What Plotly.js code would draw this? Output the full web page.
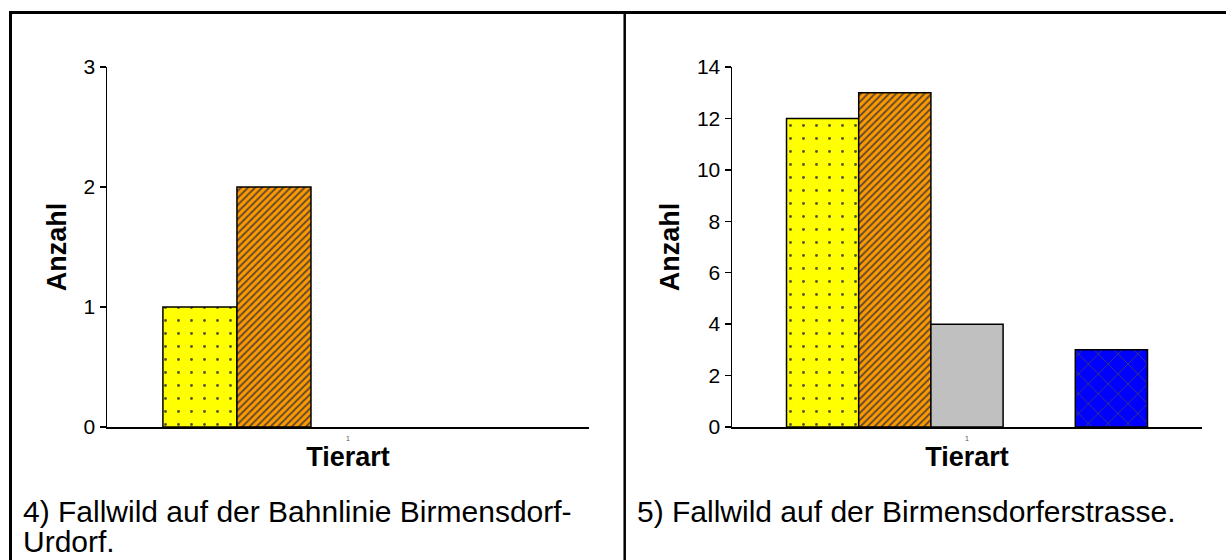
<!DOCTYPE html>
<html>
<head>
<meta charset="utf-8">
<script src="https://cdn.plot.ly/plotly-3.0.1.min.js"></script>
<style>
  html, body { margin: 0; padding: 0; background: #ffffff; }
  #chart { width: 1226px; height: 560px; }
</style>
</head>
<body>
<div id="chart"></div>
<script>
// ---- data ----
const categories = ['1'];
const seriesNames = ['Serie 1', 'Serie 2', 'Serie 3', 'Serie 4', 'Serie 5'];
// chart 4: Bahnlinie Birmensdorf-Urdorf
const bahnlinieValues = [1, 2, 0, 0, 0];
// chart 5: Birmensdorferstrasse
const strasseValues = [12, 13, 4, 0, 3];
const yTicks4 = [0, 1, 2, 3];
const yTicks5 = [0, 2, 4, 6, 8, 10, 12, 14];
const caption4a = '4) Fallwild auf der Bahnlinie Birmensdorf-';
const caption4b = 'Urdorf.';
const caption5 = '5) Fallwild auf der Birmensdorferstrasse.';
const xTitle = 'Tierart';
const yTitle = 'Anzahl';

// ---- styles ----
const FONT = 'Liberation Sans, Arial, Helvetica, sans-serif';
const styles = [
  {color: '#FFFF00', pattern: {shape: '.', fgcolor: '#55553a', bgcolor: '#FFFF00', size: 13, solidity: 0.04}},
  {color: '#FF9900', pattern: {shape: '/', fgcolor: '#5e4a30', bgcolor: '#FF9900', size: 5, solidity: 0.38}},
  {color: '#C0C0C0', pattern: {shape: ''}},
  {color: '#00FFFF', pattern: {shape: ''}},
  {color: '#0000FF', pattern: {shape: 'x', fgcolor: '#3a3a70', bgcolor: '#0000FF', size: 14, solidity: 0.12}}
];

const W = 1226, H = 560;
const px = v => v / W;
const py = v => 1 - v / H;

const traces = [];
function addChart(values, xa, ya) {
  values.forEach((v, i) => {
    traces.push({
      type: 'bar',
      x: categories,
      y: [v],
      name: seriesNames[i],
      xaxis: xa,
      yaxis: ya,
      showlegend: false,
      hoverinfo: 'y',
      marker: {
        color: styles[i].color,
        pattern: Object.assign({fillmode: 'replace'}, styles[i].pattern),
        line: {color: '#000000', width: v === 0 ? 0 : 1.5}
      }
    });
  });
}
addChart(bahnlinieValues, 'x', 'y');
addChart(strasseValues, 'x2', 'y2');

const yDomain = [py(427), py(67)];

function xAxis(d0, d1, anchor) {
  return {
    domain: [px(d0), px(d1)],
    anchor: anchor,
    type: 'category',
    showline: true, linecolor: '#000000', linewidth: 1.5,
    ticks: 'outside', ticklen: 4, tickcolor: 'rgba(0,0,0,0)',
    tickfont: {family: FONT, size: 7, color: '#555555'},
    showgrid: false, zeroline: false, fixedrange: true,
    title: {text: xTitle, font: {family: FONT, size: 27, weight: 'bold', color: '#000000'}, standoff: 4}
  };
}
function yAxis(range, ticks, anchor) {
  return {
    domain: yDomain,
    anchor: anchor,
    range: range,
    tickvals: ticks,
    ticktext: ticks.map(String),
    showline: true, linecolor: '#000000', linewidth: 1.5,
    ticks: 'outside', ticklen: 6, tickwidth: 1.5, tickcolor: '#000000',
    tickfont: {family: FONT, size: 21, color: '#000000'},
    showgrid: false, zeroline: false, fixedrange: true,
    title: {text: yTitle, font: {family: FONT, size: 27, weight: 'bold', color: '#000000'}, standoff: 9}
  };
}

const layout = {
  width: W, height: H,
  margin: {l: 0, r: 0, t: 0, b: 0, pad: 0},
  paper_bgcolor: '#ffffff', plot_bgcolor: '#ffffff',
  font: {family: FONT, color: '#000000'},
  barmode: 'group',
  bargap: 0.232,
  bargroupgap: 0,
  xaxis: xAxis(107, 589, 'y'),
  yaxis: yAxis([0, 3], yTicks4, 'x'),
  xaxis2: xAxis(732, 1202, 'y2'),
  yaxis2: yAxis([0, 14], yTicks5, 'x2'),
  shapes: [
    {type: 'line', xref: 'paper', yref: 'paper', x0: px(9), x1: px(1226), y0: py(12.5), y1: py(12.5), line: {color: '#000000', width: 3}},
    {type: 'line', xref: 'paper', yref: 'paper', x0: px(10.5), x1: px(10.5), y0: py(11), y1: py(560), line: {color: '#000000', width: 3}},
    {type: 'line', xref: 'paper', yref: 'paper', x0: px(624.7), x1: px(624.7), y0: py(11), y1: py(560), line: {color: '#000000', width: 2.5}}
  ],
  annotations: [
    {xref: 'paper', yref: 'paper', x: px(21), y: py(511), xanchor: 'left', yanchor: 'middle', showarrow: false, text: caption4a, font: {family: FONT, size: 30, color: '#000000'}},
    {xref: 'paper', yref: 'paper', x: px(21), y: py(541), xanchor: 'left', yanchor: 'middle', showarrow: false, text: caption4b, font: {family: FONT, size: 30, color: '#000000'}},
    {xref: 'paper', yref: 'paper', x: px(635), y: py(511), xanchor: 'left', yanchor: 'middle', showarrow: false, text: caption5, font: {family: FONT, size: 30, color: '#000000'}}
  ]
};

Plotly.newPlot('chart', traces, layout, {displayModeBar: false, staticPlot: true});
</script>
</body>
</html>
